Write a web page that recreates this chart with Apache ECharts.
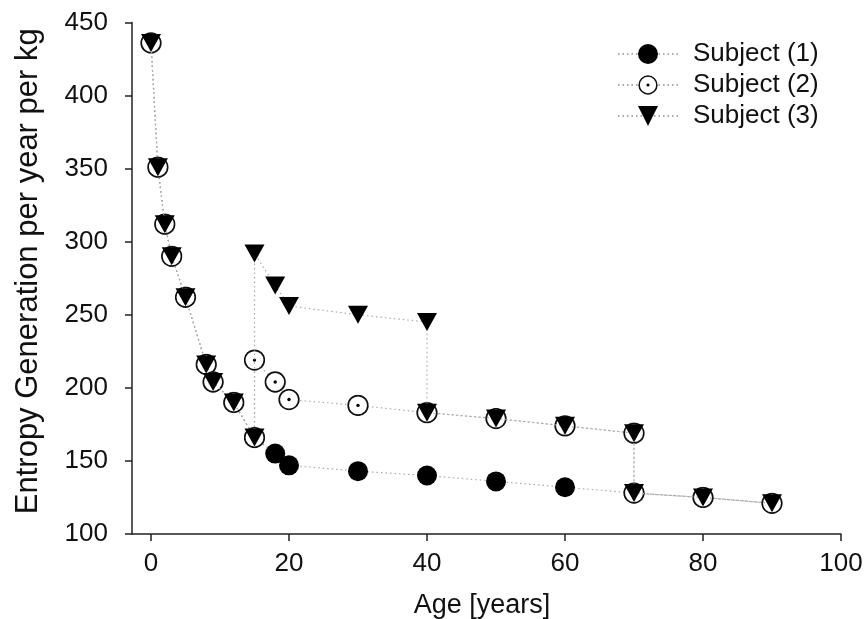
<!DOCTYPE html>
<html>
<head>
<meta charset="utf-8">
<script src="https://cdn.jsdelivr.net/npm/echarts@6/dist/echarts.min.js"></script>
<style>
html,body{margin:0;padding:0;background:#fff;}
#chart{width:866px;height:619px;}
</style>
</head>
<body>
<div id="chart"></div>
<script>
// ---- data ----
const age1 = [0,1,2,3,5,8,9,12,15,18,20,30,40,50,60,70,80,90];
const subject1 = [436,351,312,290,262,216,204,190,166,155,147,143,140,136,132,128,125,121];
const age2 = [0,1,2,3,5,8,9,12,15,15,18,20,30,40,50,60,70,70,80,90];
const subject2 = [436,351,312,290,262,216,204,190,166,219,204,192,188,183,179,174,169,128,125,121];
const age3 = [0,1,2,3,5,8,9,12,15,15,18,20,30,40,40,50,60,70,70,80,90];
const subject3 = [436,351,312,290,262,216,204,190,166,292,270,256,250,245,183,179,174,169,128,125,121];
const seriesNames = ['Subject (1)','Subject (2)','Subject (3)'];
const xTitle = 'Age [years]';
const yTitle = 'Entropy Generation per year per kg';

function pairs(xs, ys){ return xs.map((x,i)=>[x, ys[i]]); }

const FONT = '"Liberation Sans", Arial, Helvetica, sans-serif';
const AX = '#222';
const dotSvg = '<svg xmlns="http://www.w3.org/2000/svg" width="44" height="44" viewBox="0 0 44 44">' +
  '<circle cx="22" cy="22" r="19.6" fill="#fff" stroke="#111" stroke-width="3.4"/>' +
  '<circle cx="22" cy="22" r="3.4" fill="#000"/></svg>';
const openDot = 'image://data:image/svg+xml;charset=utf-8,' + encodeURIComponent(dotSvg);
const downTri = 'path://M0,0 L20,0 L10,18 Z';

const lineStyle = {color:'#aaa', width:1.2, type:[1.5,3]};

const chart = echarts.init(document.getElementById('chart'), null, {renderer:'canvas'});
chart.setOption({
  backgroundColor:'#fff',
  animation:false,
  textStyle:{fontFamily:FONT},
  grid:[
    {left:132, right:25, top:22.5, bottom:85, containLabel:false, outerBoundsMode:'none'},
    {left:151, right:25, top:22.5, bottom:85, containLabel:false, outerBoundsMode:'none'}
  ],
  xAxis:[
    {gridIndex:0, type:'value', min:-2.75, max:100,
     axisLine:{show:true, onZero:false, lineStyle:{color:AX, width:1.5}},
     axisTick:{show:false}, axisLabel:{show:false}, splitLine:{show:false}},
    {gridIndex:1, type:'value', min:0, max:100, interval:20,
     name:xTitle, nameLocation:'middle', nameGap:58,
     nameTextStyle:{fontSize:27, color:'#111', fontFamily:FONT, padding:[0,28,0,0]},
     axisLine:{show:false, onZero:false},
     axisTick:{show:true, inside:false, length:7, lineStyle:{color:AX, width:1.5}},
     axisLabel:{show:true, margin:17, fontSize:26, color:'#111', fontFamily:FONT},
     splitLine:{show:false}}
  ],
  yAxis:[
    {gridIndex:0, type:'value', min:100, max:450, interval:50,
     name:yTitle, nameLocation:'middle', nameGap:88, nameRotate:90,
     nameTextStyle:{fontSize:31, color:'#111', fontFamily:FONT, padding:[0,0,0,14]},
     axisLine:{show:true, onZero:false, lineStyle:{color:AX, width:1.5}},
     axisTick:{show:true, inside:false, length:7, lineStyle:{color:AX, width:1.5}},
     axisLabel:{show:true, margin:24, fontSize:26, color:'#111', fontFamily:FONT},
     splitLine:{show:false}},
    {gridIndex:1, type:'value', min:100, max:450, show:false}
  ],
  legend:{
    orient:'vertical', left:612, top:36, itemWidth:60, itemHeight:25, itemGap:5,
    data:seriesNames,
    textStyle:{fontSize:26, color:'#111', fontFamily:FONT, padding:[0,0,0,10]}
  },
  series:[
    {name:seriesNames[0], type:'line', xAxisIndex:1, yAxisIndex:1,
     data:pairs(age1, subject1), symbol:'circle', symbolSize:20,
     itemStyle:{color:'#000'}, lineStyle:lineStyle, z:2},
    {name:seriesNames[1], type:'line', xAxisIndex:1, yAxisIndex:1,
     data:pairs(age2, subject2), symbol:openDot, symbolSize:22,
     itemStyle:{color:'#000'}, lineStyle:lineStyle, z:3},
    {name:seriesNames[2], type:'line', xAxisIndex:1, yAxisIndex:1,
     data:pairs(age3, subject3), symbol:downTri, symbolSize:[20,18],
     itemStyle:{color:'#000'}, lineStyle:lineStyle, z:4}
  ]
});
</script>
</body>
</html>
